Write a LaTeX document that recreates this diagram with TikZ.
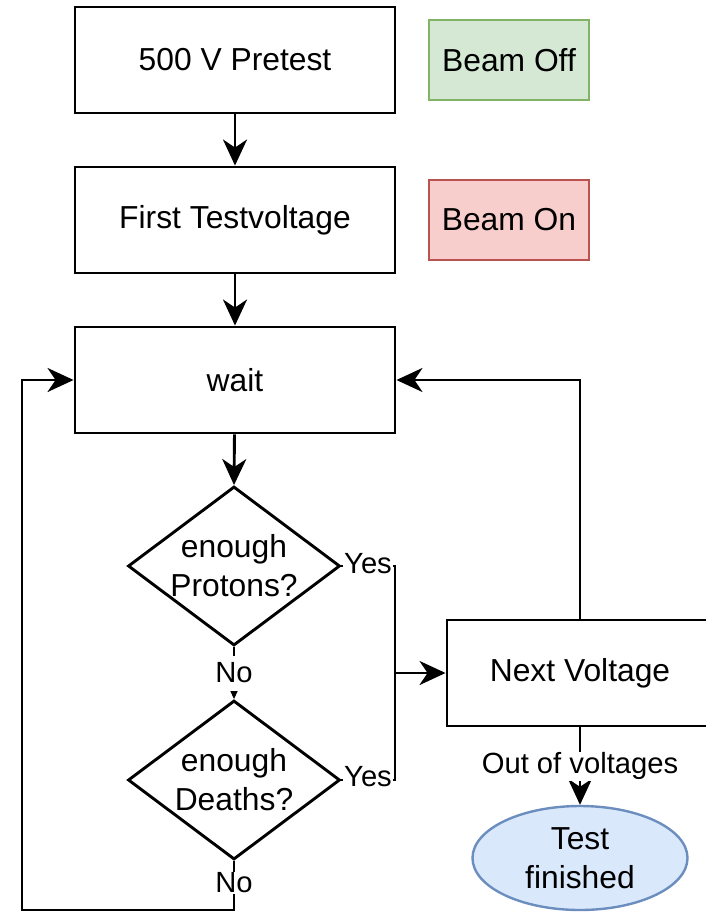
\documentclass[tikz,border=0pt]{standalone}
\usepackage{fontspec}
\setmainfont{Liberation Sans}
\usetikzlibrary{arrows.meta,shapes.geometric}
\definecolor{offfill}{HTML}{D5E8D4}
\definecolor{offline}{HTML}{82B366}
\definecolor{onfill}{HTML}{F8CECC}
\definecolor{online}{HTML}{B85450}
\definecolor{endfill}{HTML}{DAE8FC}
\definecolor{endline}{HTML}{6C8EBF}
\tikzset{
  mainfont/.style={font=\fontsize{31.8}{39}\selectfont},
  lblfont/.style={font=\fontsize{29.2}{34}\selectfont},
  stepbox/.style={draw, line width=2.9pt, minimum width=320pt, minimum height=106pt, inner sep=0pt, mainfont},
  beambox/.style={draw, line width=2.4pt, minimum width=160pt, minimum height=80pt, inner sep=0pt, mainfont},
  decision/.style={diamond, draw, line width=2.9pt, minimum width=212pt, minimum height=159pt, inner sep=0pt},
  dtext/.style={align=center, inner sep=0pt, mainfont},
  endnode/.style={ellipse, draw=endline, fill=endfill, line width=2.4pt, minimum width=215pt, minimum height=104pt, inner sep=0pt, align=center, mainfont},
  edge/.style={line width=2.9pt},
  arr/.style={edge, -{Stealth[length=26pt, width=24pt, inset=8pt]}},
  elabel/.style={fill=white, inner sep=1pt, lblfont},
}
\begin{document}
\begin{tikzpicture}[x=1pt, y=-1pt]
\useasboundingbox (0,0) rectangle (706,912);

% process steps
\node[stepbox] (pre)  at (235,60)  {500 V Pretest};
\node[stepbox] (first) at (235,220) {First Testvoltage};
\node[stepbox] (wait) at (235,380) {wait};
\node[stepbox, minimum width=266pt] (next) at (580,673) {Next Voltage};

% legend
\node[beambox, draw=offline, fill=offfill] (off) at (509,60)  {Beam Off};
\node[beambox, draw=online, fill=onfill]  (on)  at (509,220) {Beam On};

% decisions
\node[decision] (dp) at (234,566) {};
\node[dtext] (dpt) at (dp) {enough\\Protons?};
\node[decision] (dd) at (234,780) {};
\node[dtext] (ddt) at (dd) {enough\\Deaths?};

% end state
\node[endnode] (done) at (580,858) {Test\\finished};

% junction points
\coordinate (join) at (395,673);
\coordinate (loop) at (22,910);

% connectors
\draw[arr] (pre) -- (first);
\draw[arr] (first) -- (wait);
\draw[arr] (wait) -- (dp.north);
\draw[arr] (dp.south) -- node[elabel, pos=0.5, minimum height=35pt] (no1) {No} (dd.north);
\draw[edge] (dp.east) -| (join);
\draw[edge] (dd.east) -| (join);
\draw[arr] (join) -- (next.west);
\draw[arr] (next.north) |- (wait.east);
\draw[arr] (next.south) -- node[elabel] (outv) {Out of voltages} (done.north);
\draw[arr] (dd.south) |- (loop) |- (wait.west);

% edge labels
\node[elabel] (yes1) at (368,564) {Yes};
\node[elabel] (yes2) at (368,777) {Yes};
\node[elabel] (no2) at (234,883) {No};
\end{tikzpicture}
\end{document}
